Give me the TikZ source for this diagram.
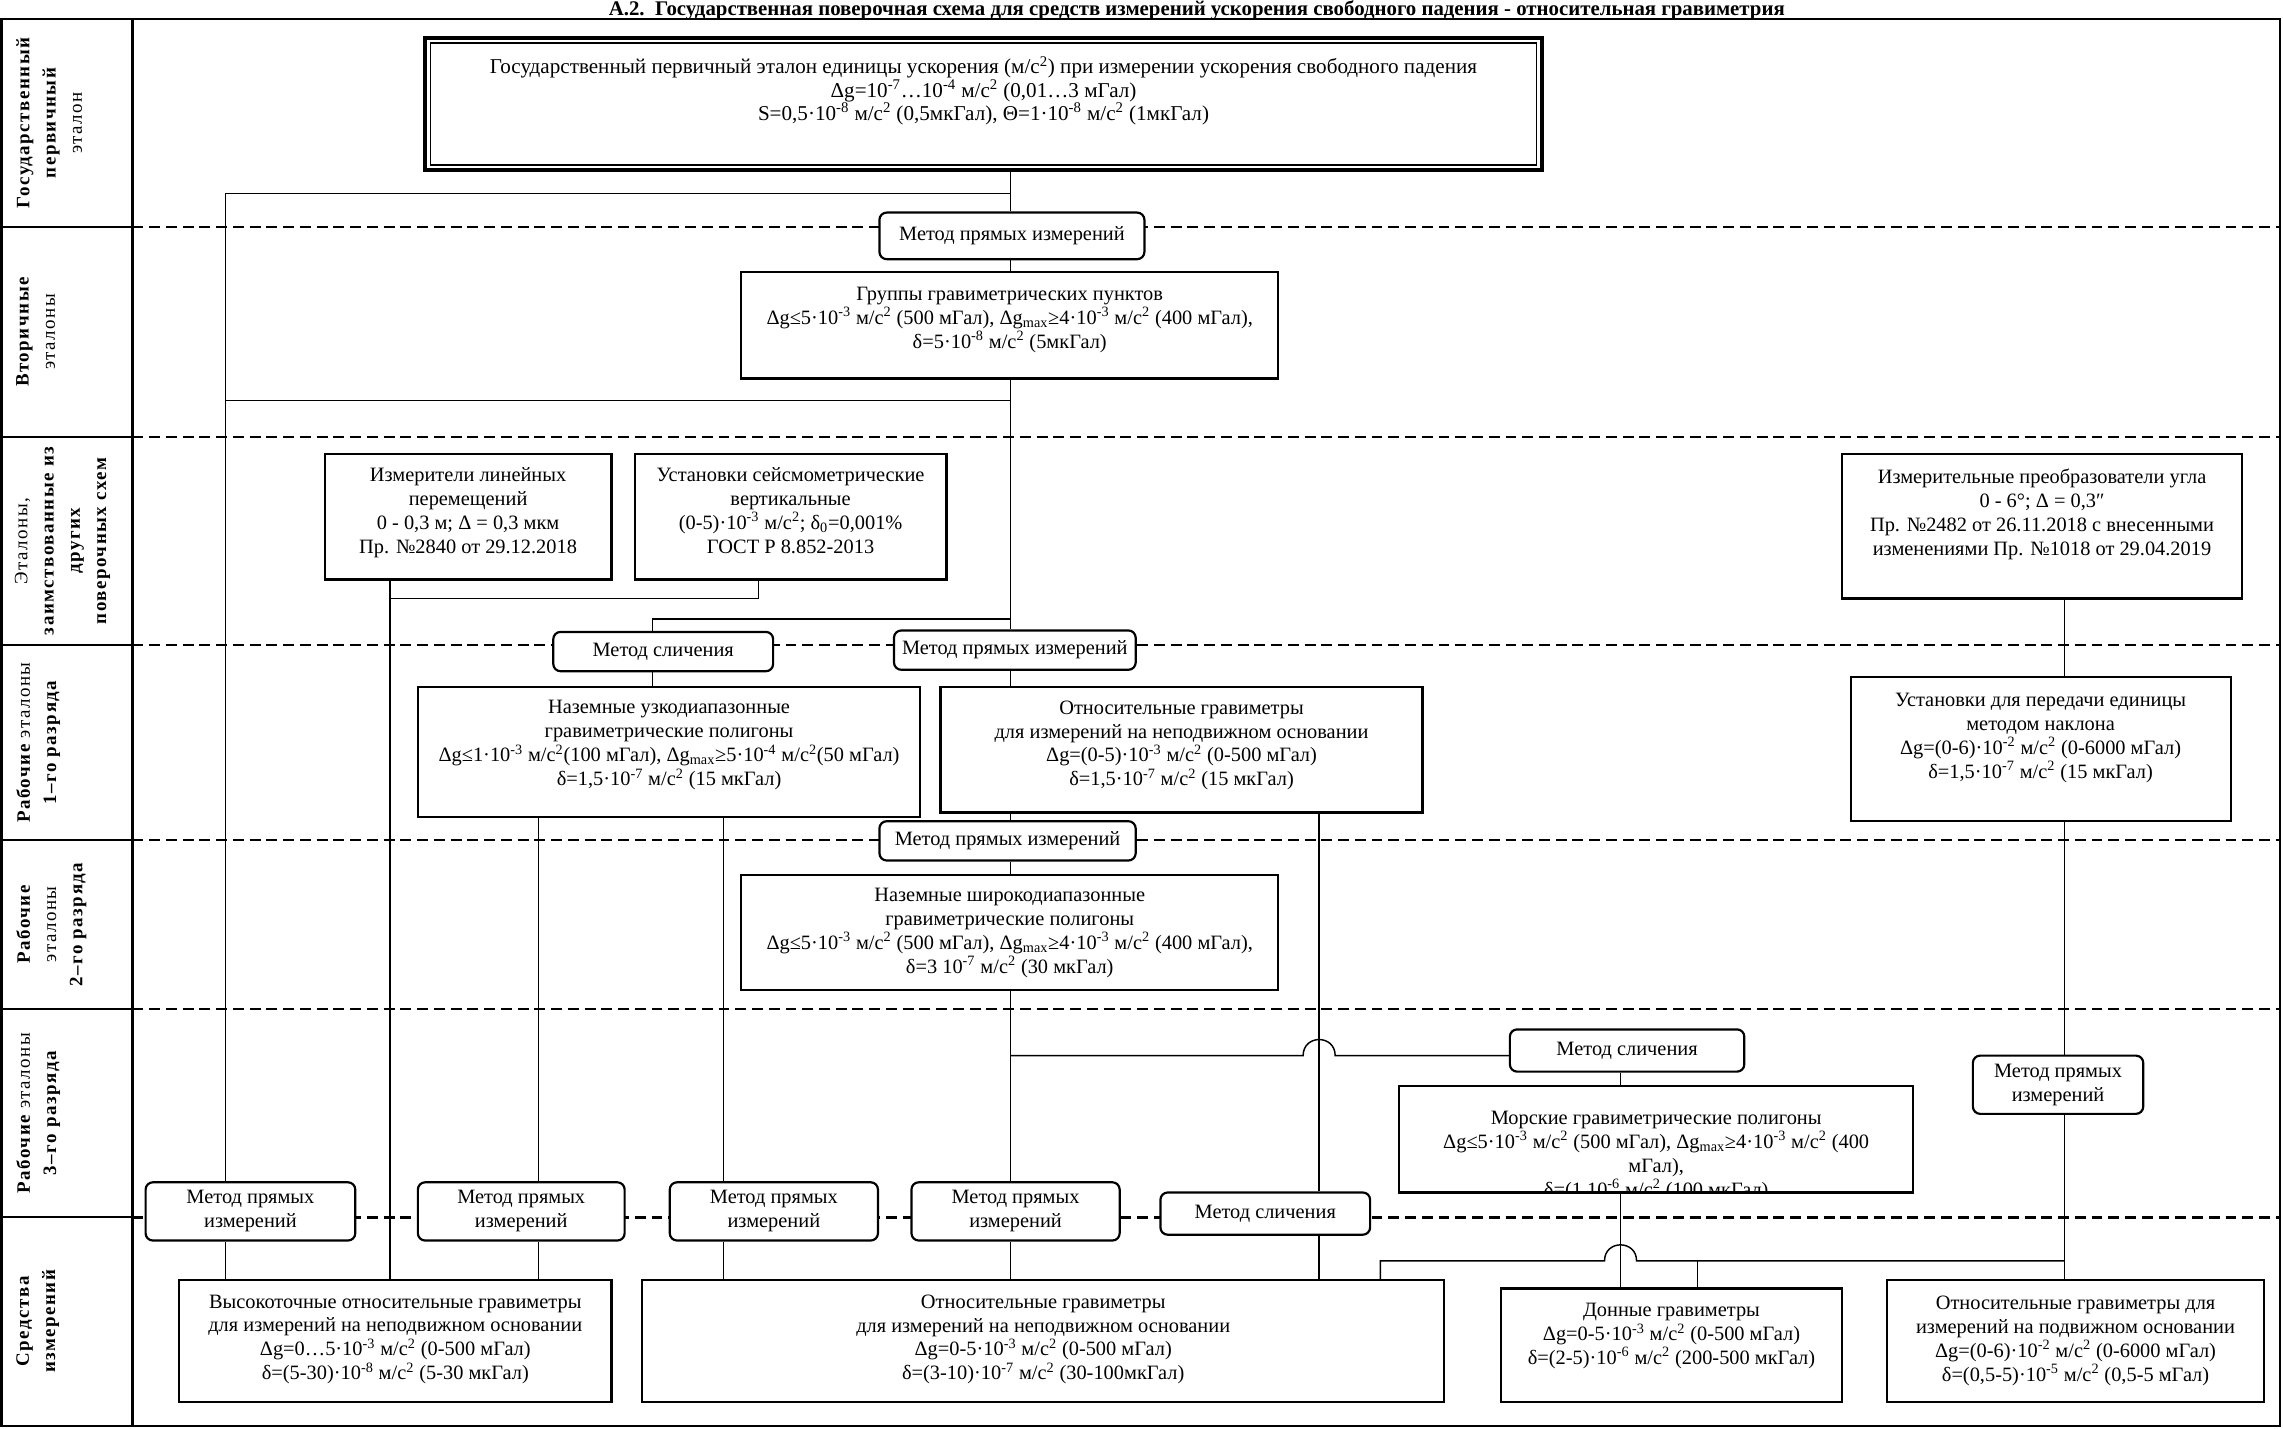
\documentclass[tikz,border=0pt]{standalone}
\usepackage{fontspec}
\setmainfont{Liberation Serif}
\newfontfamily\lblfont[LetterSpace=8]{Liberation Serif}
\usetikzlibrary{backgrounds}
\newcommand{\mss}{м/с\textsuperscript{2}}
\newcommand{\dten}[1]{10\textsuperscript{#1}}
\newcommand{\dgm}{Δg\textsubscript{max}}
\newcommand{\bx}[7][box]{\node[#1, minimum width={(#5-#3)*1pt}, minimum height={(#6-#4)*1pt}] (#2) at ({(#3+#5)/2},{(#4+#6)/2}) {#7};}
\tikzset{
  box/.style={draw, line width=1.5pt, fill=white, inner sep=0pt},
  rbox/.style={draw, line width=1.5pt, fill=white, inner sep=0pt, rounded corners=5pt, align=center, font=\fontsize{14}{16.4}\selectfont},
  txt/.style={inner sep=0pt, anchor=north, align=center, font=\fontsize{14}{16.4}\selectfont},
  conn/.style={line width=1pt},
  sepline/.style={line width=1.8pt, dash pattern=on 7.5pt off 4pt},
  frameline/.style={line width=1.6pt},
  lbl/.style={rotate=90, anchor=north, inner sep=0pt, align=center, font=\fontsize{13}{18}\selectfont\lblfont},
}
\begin{document}
\begin{tikzpicture}[x=1pt,y=-1pt]
\useasboundingbox (0,0) rectangle (1568,980.8);

% title
\node[font=\fontsize{14.3}{16}\selectfont\bfseries, anchor=base, inner sep=0pt] (title) at (822,10.5) {А.2.\ \ Государственная поверочная схема для средств измерений ускорения свободного падения - относительная гравиметрия};

% frame and label column
\draw[frameline] (1,13) rectangle (1566,979.5);
\draw[frameline] (91,13) -- (91,979.5);
\foreach \yy in {156,300,443,577,693,836} \draw[frameline] (1,\yy) -- (91,\yy);

\node[lbl] (L1) at (11,84.5) {{\bfseries Государственный}\\{\bfseries первичный}\\эталон};
\node[lbl] (L2) at (11,228) {{\bfseries Вторичные}\\эталоны};
\node[lbl] (L3) at (10,371.5) {Эталоны,\\{\bfseries заимствованные из}\\{\bfseries других}\\{\bfseries поверочных схем}};
\node[lbl] (L4) at (11,510) {{\bfseries Рабочие} эталоны\\{\bfseries 1–го разряда}};
\node[lbl] (L5) at (11,635) {{\bfseries Рабочие}\\эталоны\\{\bfseries 2–го разряда}};
\node[lbl] (L6) at (11,764.5) {{\bfseries Рабочие} эталоны\\{\bfseries 3–го разряда}};
\node[lbl] (L7) at (11,907.5) {{\bfseries Средства}\\{\bfseries измерений}};

% boxes
\bx[box, line width=2.6pt]{B0}{292}{26}{1059}{117}{}
\draw[line width=1.1pt] ([xshift=4.9pt,yshift=4.9pt]B0.south west) rectangle ([xshift=-4.9pt,yshift=-4.9pt]B0.north east);
\bx{B1}{509}{187}{878}{260}{}
\bx{Bizm}{223}{312}{420}{398}{}
\bx{Bust}{436}{312}{650}{398}{}
\bx{Bang}{1265}{312}{1540}{411}{}
\bx{Buzk}{287}{472}{632}{561}{}
\bx{Botn1}{646}{472}{977}{558}{}
\bx{Bnakl}{1271}{465}{1532}{564}{}
\bx{Bshir}{509}{601}{878}{680}{}
\bx{Bmor}{961}{746}{1314}{819}{}
\bx{Bvys}{123}{879}{420}{963}{}
\bx{Botn}{441}{879}{992}{963}{}
\bx{Bdon}{1031}{885}{1265}{963}{}
\bx{Bmov}{1296}{879}{1555}{963}{}

% method boxes
\bx[rbox]{M1}{604}{146}{786}{178}{Метод прямых измерений}
\bx[rbox]{MS1}{380}{434}{531}{461}{Метод сличения}
\bx[rbox]{MP2}{614}{433}{780}{460}{Метод прямых измерений}
\bx[rbox]{M3}{604}{564}{780}{591}{Метод прямых измерений}
\bx[rbox]{MSf}{1037}{707}{1198}{736}{Метод сличения}
\bx[rbox]{MPr}{1355}{725}{1472}{765}{Метод прямых\\измерений}
\bx[rbox]{MPa}{100}{812}{244}{852}{Метод прямых\\измерений}
\bx[rbox]{MPb}{287}{812}{429}{852}{Метод прямых\\измерений}
\bx[rbox]{MPc}{460}{812}{603}{852}{Метод прямых\\измерений}
\bx[rbox]{MPd}{626}{812}{769}{852}{Метод прямых\\измерений}
\bx[rbox]{MSe}{797}{819}{941}{848}{Метод сличения}

% box texts
\node[txt, font=\fontsize{14.5}{14.5}\selectfont] (B0t) at (675.5,38.5) {Государственный первичный эталон единицы ускорения (\mss) при измерении ускорения свободного падения\\Δg=\dten{-7}…\dten{-4} \mss{} (0,01…3 мГал)\\S=0,5·\dten{-8} \mss{} (0,5мкГал), Θ=1·\dten{-8} \mss{} (1мкГал)};
\node[txt] (B1t) at (693.5,197) {Группы гравиметрических пунктов\\Δg≤5·\dten{-3} \mss{} (500 мГал), \dgm≥4·\dten{-3} \mss{} (400 мГал),\\δ=5·\dten{-8} \mss{} (5мкГал)};
\node[txt] (Bizmt) at (321.5,321) {Измерители линейных\\перемещений\\0 - 0,3 м; Δ = 0,3 мкм\\Пр. №2840 от 29.12.2018};
\node[txt] (Bustt) at (543,321) {Установки сейсмометрические\\вертикальные\\(0-5)·\dten{-3} \mss; δ\textsubscript{0}=0,001\%\\ГОСТ Р 8.852-2013};
\node[txt] (Bangt) at (1402.5,322) {Измерительные преобразователи угла\\0 - 6°; Δ = 0,3″\\Пр. №2482 от 26.11.2018 с внесенными\\изменениями Пр. №1018 от 29.04.2019};
\node[txt] (Buzkt) at (459.5,481) {Наземные узкодиапазонные\\гравиметрические полигоны\\Δg≤1·\dten{-3} \mss(100 мГал), \dgm≥5·\dten{-4} \mss(50 мГал)\\δ=1,5·\dten{-7} \mss{} (15 мкГал)};
\node[txt] (Botn1t) at (811.5,481) {Относительные гравиметры\\для измерений на неподвижном основании\\Δg=(0-5)·\dten{-3} \mss{} (0-500 мГал)\\δ=1,5·\dten{-7} \mss{} (15 мкГал)};
\node[txt] (Bnaklt) at (1401.5,476) {Установки для передачи единицы\\методом наклона\\Δg=(0-6)·\dten{-2} \mss{} (0-6000 мГал)\\δ=1,5·\dten{-7} \mss{} (15 мкГал)};
\node[txt] (Bshirt) at (693.5,610) {Наземные широкодиапазонные\\гравиметрические полигоны\\Δg≤5·\dten{-3} \mss{} (500 мГал), \dgm≥4·\dten{-3} \mss{} (400 мГал),\\δ=3 \dten{-7} \mss{} (30 мкГал)};
\begin{scope}
\clip ([xshift=1.5pt,yshift=1.5pt]Bmor.south west) rectangle ([xshift=-1.5pt,yshift=-1.5pt]Bmor.north east);
\node[txt] (Bmort) at (1137.5,763) {Морские гравиметрические полигоны\\Δg≤5·\dten{-3} \mss{} (500 мГал), \dgm≥4·\dten{-3} \mss{} (400\\мГал),\\δ=(1.\dten{-6} \mss{} (100 мкГал)};
\end{scope}
\node[txt] (Bvyst) at (271.5,889) {Высокоточные относительные гравиметры\\для измерений на неподвижном основании\\Δg=0…5·\dten{-3} \mss{} (0-500 мГал)\\δ=(5-30)·\dten{-8} \mss{} (5-30 мкГал)};
\node[txt] (Botnt) at (716.5,889) {Относительные гравиметры\\для измерений на неподвижном основании\\Δg=0-5·\dten{-3} \mss{} (0-500 мГал)\\δ=(3-10)·\dten{-7} \mss{} (30-100мкГал)};
\node[txt] (Bdont) at (1148,895) {Донные гравиметры\\Δg=0-5·\dten{-3} \mss{} (0-500 мГал)\\δ=(2-5)·\dten{-6} \mss{} (200-500 мкГал)};
\node[txt] (Bmovt) at (1425.5,890) {Относительные гравиметры для\\измерений на подвижном основании\\Δg=(0-6)·\dten{-2} \mss{} (0-6000 мГал)\\δ=(0,5-5)·\dten{-5} \mss{} (0,5-5 мГал)};

% coordinates
\coordinate (xA) at (155,0); \coordinate (xB) at (268,0); \coordinate (xC) at (370,0);
\coordinate (xD) at (497,0); \coordinate (xE) at (694,0); \coordinate (xF) at (906,0);
\coordinate (xG) at (1113,0); \coordinate (xH) at (1418,0); \coordinate (xS) at (448,0);
\coordinate (xU) at (521,0); \coordinate (xK) at (948,0); \coordinate (xL) at (1166,0);
\coordinate (jTop) at (694,133); \coordinate (jTopL) at (155,133);
\coordinate (jMid) at (694,275); \coordinate (jMidL) at (155,275);
\coordinate (jSl) at (694,425); \coordinate (jSlL) at (448,425);
\coordinate (jLin) at (521,411); \coordinate (jLinL) at (268,411);
\coordinate (jMor) at (694,725);
\coordinate (h1a) at (895,725); \coordinate (h1b) at (917,725);
\coordinate (jBot) at (1418,866); \coordinate (jBotL) at (948,866); \coordinate (jBotD) at (1166,866);
\coordinate (h2a) at (1124,866); \coordinate (h2b) at (1102,866);

\begin{pgfonlayer}{background}
\foreach \yy in {156,300,443,577,693,836} \draw[sepline] (91,\yy) -- (1566,\yy);
% trunk
\draw[conn] (B0.south -| xE) -- (jTop) -- (M1.north -| xE);
\draw[conn] (jTop) -- (jTopL) -- (MPa.north -| xA);
\draw[conn] (M1.south -| xE) -- (B1.north -| xE);
\draw[conn] (B1.south -| xE) -- (MP2.north -| xE);
\draw[conn] (jMid) -- (jMidL);
\draw[conn] (jSl) -- (jSlL) -- (MS1.north -| xS);
\draw[conn] (MS1.south -| xS) -- (Buzk.north -| xS);
\draw[conn] (MP2.south -| xE) -- (Botn1.north -| xE);
\draw[conn] (Botn1.south -| xE) -- (M3.north -| xE);
\draw[conn] (M3.south -| xE) -- (Bshir.north -| xE);
\draw[conn] (Bshir.south -| xE) -- (MPd.north -| xE);
\draw[conn] (MPd.south -| xE) -- (Botn.north -| xE);
\draw[conn] (MPa.south -| xA) -- (Bvys.north -| xA);
% borrowed standards
\draw[conn] (Bizm.south -| xB) -- (Bvys.north -| xB);
\draw[conn] (Bust.south -| xU) -- (jLin) -- (jLinL);
% narrow-range polygons
\draw[conn] (Buzk.south -| xC) -- (MPb.north -| xC);
\draw[conn] (MPb.south -| xC) -- (Bvys.north -| xC);
\draw[conn] (Buzk.south -| xD) -- (MPc.north -| xD);
\draw[conn] (MPc.south -| xD) -- (Botn.north -| xD);
% relative gravimeters 1st grade
\draw[conn] (Botn1.south -| xF) -- (MSe.north -| xF);
\draw[conn] (MSe.south -| xF) -- (Botn.north -| xF);
% to marine
\draw[conn] (jMor) -- (h1a) .. controls +(0,-14.7) and +(0,-14.7) .. (h1b) -- (MSf.west |- jMor);
\draw[conn] (MSf.south -| xG) -- (Bmor.north -| xG);
\draw[conn] (Bmor.south -| xG) -- (Bdon.north -| xG);
% angle branch
\draw[conn] (Bang.south -| xH) -- (Bnakl.north -| xH);
\draw[conn] (Bnakl.south -| xH) -- (MPr.north -| xH);
\draw[conn] (MPr.south -| xH) -- (Bmov.north -| xH);
\draw[conn] (jBot) -- (h2a) .. controls +(0,-14.7) and +(0,-14.7) .. (h2b) -- (jBotL) -- (Botn.north -| xK);
\draw[conn] (jBotD) -- (Bdon.north -| xL);
\end{pgfonlayer}
\end{tikzpicture}
\end{document}
